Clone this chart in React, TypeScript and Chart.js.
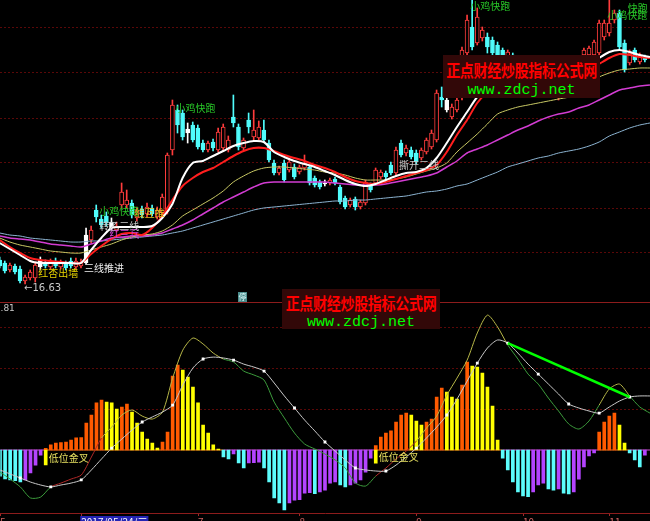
import React, { useEffect, useRef } from 'react';
import { Chart, registerables } from 'chart.js';

Chart.register(...registerables);

// ---- daily candles (bar index 0..127) ----
const openP = [
  17.11, 17.05, 16.91, 16.99, 16.93, 16.69, 16.75, 16.75, 16.97, 17.07,
  16.97, 17.09, 16.97, 17.05, 17.09, 16.97, 16.99, 17.05, 17.51, 18.11,
  17.93, 17.99, 17.75, 17.71, 18.21, 18.21, 18.25, 17.95, 18.13, 18.03,
  18.15, 17.97, 18.05, 18.11, 19.31, 20.11, 20.05, 19.65, 19.81, 19.75,
  19.45, 19.31, 19.47, 19.31, 19.35, 19.31, 19.97, 19.77, 19.35, 19.91,
  19.57, 19.55, 19.71, 19.45, 19.05, 18.85, 19.05, 18.91, 18.97, 18.87,
  18.95, 18.97, 18.75, 18.67, 18.63, 18.65, 18.73, 18.57, 18.35, 18.21,
  18.33, 18.17, 18.25, 18.61, 18.65, 18.77, 18.85, 19.01, 18.85, 19.45,
  19.25, 19.31, 19.25, 19.15, 19.27, 19.37, 19.51, 20.37, 20.11, 19.97,
  20.11, 20.37, 21.25, 21.77, 21.45, 21.55, 21.57, 21.51, 21.41, 21.31,
  21.15, 21.21, 21.11, 20.95, 21.01, 20.91, 20.75, 20.81, 20.71, 20.67,
  20.47, 20.55, 20.75, 20.71, 20.87, 21.21, 21.21, 21.21, 21.25, 21.57,
  21.65, 21.91, 22.05, 21.45, 21.05, 21.31, 21.07, 21.17,
];
const highP = [
  17.17, 17.09, 17.05, 17.03, 16.99, 16.81, 16.91, 17.07, 17.17, 17.11,
  17.13, 17.15, 17.11, 17.09, 17.15, 17.15, 17.13, 17.75, 17.79, 18.21,
  18.01, 18.07, 17.95, 17.87, 18.65, 18.51, 18.31, 18.17, 18.19, 18.25,
  18.21, 18.17, 18.43, 19.25, 20.31, 20.21, 20.11, 19.85, 19.87, 19.81,
  19.51, 19.49, 19.53, 19.75, 19.83, 19.59, 20.41, 19.83, 19.55, 20.05,
  20.11, 19.89, 19.91, 19.51, 19.11, 18.99, 19.11, 19.15, 19.03, 19.01,
  19.21, 19.01, 18.79, 18.71, 18.71, 18.75, 18.77, 18.61, 18.39, 18.35,
  18.37, 18.31, 18.71, 18.65, 18.95, 18.91, 18.89, 19.07, 19.37, 19.51,
  19.41, 19.37, 19.31, 19.35, 19.55, 19.71, 20.51, 20.57, 20.37, 20.23,
  20.37, 21.37, 22.01, 22.41, 22.15, 21.77, 21.65, 21.57, 21.47, 21.35,
  21.31, 21.25, 21.15, 21.11, 21.07, 20.95, 20.91, 20.85, 20.75, 20.71,
  20.65, 20.75, 20.79, 20.95, 21.15, 21.35, 21.39, 21.51, 21.91, 21.91,
  22.37, 22.11, 22.11, 21.51, 21.31, 21.35, 21.25, 21.21,
];
const lowP = [
  16.95, 16.85, 16.87, 16.83, 16.65, 16.63, 16.71, 16.67, 16.91, 16.95,
  16.93, 16.95, 16.93, 16.91, 16.95, 16.93, 16.95, 17.03, 17.45, 17.87,
  17.75, 17.79, 17.69, 17.67, 18.15, 18.15, 17.95, 17.89, 17.95, 17.97,
  17.99, 17.93, 18.01, 18.03, 19.21, 19.65, 19.51, 19.45, 19.47, 19.33,
  19.27, 19.27, 19.29, 19.27, 19.29, 19.27, 19.77, 19.31, 19.31, 19.65,
  19.51, 19.51, 19.47, 19.07, 18.81, 18.81, 18.67, 18.87, 18.73, 18.83,
  18.91, 18.61, 18.57, 18.53, 18.59, 18.61, 18.61, 18.23, 18.13, 18.17,
  18.11, 18.13, 18.21, 18.47, 18.61, 18.73, 18.73, 18.81, 18.81, 19.17,
  19.19, 19.13, 19.03, 19.11, 19.23, 19.33, 19.47, 20.17, 20.07, 19.93,
  20.07, 20.31, 21.21, 21.31, 21.41, 21.49, 21.25, 21.21, 21.07, 21.03,
  21.11, 20.87, 20.81, 20.91, 20.71, 20.67, 20.71, 20.51, 20.47, 20.37,
  20.31, 20.51, 20.37, 20.67, 20.83, 21.17, 21.17, 21.17, 21.21, 21.51,
  21.59, 21.85, 21.31, 20.87, 21.01, 21.07, 21.03, 21.07,
];
const closeP = [
  16.99, 16.89, 17.01, 16.87, 16.69, 16.77, 16.87, 17.01, 17.11, 16.99,
  17.07, 16.99, 17.07, 16.95, 16.99, 17.09, 17.07, 17.61, 17.71, 17.97,
  17.81, 17.85, 17.87, 17.79, 18.47, 18.31, 18.01, 18.11, 18.01, 18.17,
  18.03, 18.11, 18.37, 19.21, 20.21, 19.81, 19.57, 19.73, 19.51, 19.37,
  19.31, 19.45, 19.35, 19.67, 19.77, 19.51, 19.85, 19.37, 19.51, 19.77,
  19.71, 19.77, 19.51, 19.11, 18.85, 18.95, 18.71, 19.07, 18.77, 18.97,
  19.05, 18.65, 18.61, 18.57, 18.65, 18.71, 18.65, 18.27, 18.17, 18.31,
  18.17, 18.27, 18.67, 18.51, 18.91, 18.87, 18.77, 18.85, 19.31, 19.21,
  19.35, 19.17, 19.07, 19.31, 19.51, 19.65, 20.45, 20.31, 20.31, 20.17,
  20.31, 21.31, 21.91, 21.37, 21.97, 21.71, 21.37, 21.25, 21.11, 21.07,
  21.27, 20.91, 20.87, 21.07, 20.75, 20.71, 20.87, 20.55, 20.51, 20.47,
  20.61, 20.71, 20.59, 20.91, 21.11, 21.31, 21.35, 21.47, 21.85, 21.85,
  21.85, 22.05, 21.37, 20.91, 21.25, 21.11, 21.21, 21.11,
];
// bars the indicator paints white
const whiteBars = [8, 17, 22, 37, 64, 88];

// ---- moving averages, one value every 2 bars ----
const LINE_STEP = 2;
const ma5 = [
  17.45, 17.33, 17.21, 17.09, 17.05, 17.05, 17.05, 17.05, 17.05, 17.31,
  17.55, 17.75, 17.77, 17.77, 17.77, 17.79, 17.95, 18.23, 18.75, 19.05,
  19.09, 19.19, 19.29, 19.39, 19.45, 19.49, 19.47, 19.27, 19.17, 19.09,
  19.03, 18.97, 18.89, 18.81, 18.71, 18.63, 18.59, 18.63, 18.71, 18.79,
  18.85, 18.87, 18.95, 19.15, 19.45, 19.77, 20.07, 20.37, 20.55, 20.71,
  20.81, 20.87, 20.87, 20.81, 20.75, 20.71, 20.75, 20.87, 21.01, 21.15,
  21.27, 21.31, 21.27, 21.21, 21.17,
];
const ma10 = [
  17.51, 17.37, 17.25, 17.15, 17.11, 17.09, 17.07, 17.05, 17.05, 17.23,
  17.39, 17.53, 17.63, 17.65, 17.61, 17.75, 17.99, 18.31, 18.59, 18.75,
  18.87, 18.95, 19.07, 19.19, 19.29, 19.35, 19.35, 19.29, 19.21, 19.15,
  19.09, 19.01, 18.95, 18.87, 18.77, 18.69, 18.65, 18.63, 18.67, 18.73,
  18.79, 18.85, 18.91, 19.01, 19.27, 19.61, 19.91, 20.25, 20.47, 20.61,
  20.71, 20.77, 20.79, 20.77, 20.75, 20.73, 20.75, 20.81, 20.91, 21.03,
  21.15, 21.23, 21.21, 21.17, 21.15,
];
const ma20 = [
  17.55, 17.47, 17.41, 17.37, 17.33, 17.29, 17.27, 17.25, 17.25, 17.31,
  17.37, 17.43, 17.51, 17.57, 17.61, 17.63, 17.69, 17.81, 17.99, 18.11,
  18.23, 18.35, 18.49, 18.67, 18.79, 18.89, 18.95, 18.97, 18.97, 18.95,
  18.93, 18.91, 18.87, 18.85, 18.81, 18.75, 18.71, 18.71, 18.71, 18.73,
  18.77, 18.83, 18.89, 18.95, 19.05, 19.27, 19.45, 19.63, 19.83, 20.03,
  20.11, 20.17, 20.21, 20.25, 20.29, 20.33, 20.37, 20.49, 20.63, 20.77,
  20.85, 20.91, 20.93, 20.95, 20.95,
];
const ma30 = [
  17.59, 17.55, 17.53, 17.51, 17.47, 17.43, 17.41, 17.39, 17.37, 17.43,
  17.49, 17.55, 17.57, 17.59, 17.59, 17.61, 17.65, 17.73, 17.81, 17.91,
  18.03, 18.15, 18.27, 18.37, 18.47, 18.57, 18.65, 18.67, 18.67, 18.67,
  18.67, 18.67, 18.67, 18.65, 18.63, 18.61, 18.61, 18.61, 18.63, 18.67,
  18.71, 18.75, 18.79, 18.85, 18.97, 19.09, 19.25, 19.33, 19.41, 19.51,
  19.61, 19.71, 19.79, 19.89, 19.97, 20.03, 20.07, 20.15, 20.21, 20.31,
  20.41, 20.51, 20.55, 20.59, 20.61,
];
const ma60 = [
  17.65, 17.61, 17.59, 17.55, 17.53, 17.51, 17.49, 17.47, 17.47, 17.49,
  17.49, 17.51, 17.53, 17.55, 17.57, 17.59, 17.61, 17.65, 17.69, 17.75,
  17.81, 17.87, 17.93, 17.99, 18.05, 18.11, 18.15, 18.17, 18.19, 18.21,
  18.23, 18.25, 18.27, 18.29, 18.29, 18.31, 18.31, 18.33, 18.35, 18.37,
  18.39, 18.43, 18.47, 18.49, 18.53, 18.59, 18.63, 18.71, 18.79, 18.87,
  18.97, 19.03, 19.09, 19.15, 19.19, 19.25, 19.29, 19.33, 19.39, 19.47,
  19.59, 19.67, 19.75, 19.81, 19.85,
];

// ---- MACD ----
const macdHist = [
  -0.150, -0.165, -0.171, -0.175, -0.183, -0.171, -0.131, -0.086, -0.029, 0.010,
  0.029, 0.040, 0.043, 0.046, 0.057, 0.069, 0.071, 0.154, 0.200, 0.269,
  0.286, 0.274, 0.269, 0.234, 0.246, 0.263, 0.217, 0.154, 0.103, 0.063,
  0.040, 0.011, 0.046, 0.103, 0.423, 0.486, 0.457, 0.417, 0.360, 0.269,
  0.143, 0.097, 0.029, 0.006, -0.040, -0.051, -0.023, -0.074, -0.103, -0.074,
  -0.072, -0.070, -0.103, -0.183, -0.274, -0.303, -0.343, -0.303, -0.286, -0.284,
  -0.246, -0.244, -0.250, -0.240, -0.229, -0.189, -0.183, -0.200, -0.211, -0.200,
  -0.189, -0.171, -0.126, -0.046, 0.025, 0.074, 0.097, 0.109, 0.160, 0.200,
  0.211, 0.200, 0.166, 0.143, 0.160, 0.177, 0.303, 0.354, 0.331, 0.303,
  0.291, 0.371, 0.503, 0.480, 0.474, 0.440, 0.360, 0.251, 0.057, -0.046,
  -0.114, -0.183, -0.240, -0.263, -0.266, -0.240, -0.200, -0.189, -0.223, -0.229,
  -0.223, -0.246, -0.251, -0.240, -0.166, -0.097, -0.034, -0.017, 0.103, 0.160,
  0.194, 0.211, 0.143, 0.040, -0.017, -0.057, -0.097, -0.029,
];
const dif = [
  -0.126, -0.166, -0.211, -0.274, -0.269, -0.211, -0.189, -0.166, -0.143, -0.040,
  0.069, 0.131, 0.200, 0.229, 0.194, 0.177, 0.217, 0.411, 0.571, 0.640,
  0.606, 0.554, 0.520, 0.503, 0.451, 0.429, 0.400, 0.274, 0.183, 0.097,
  0.034, 0.006, -0.023, -0.057, -0.103, -0.189, -0.206, -0.149, -0.103, -0.051,
  -0.006, 0.051, 0.126, 0.194, 0.314, 0.411, 0.514, 0.669, 0.771, 0.703,
  0.600, 0.520, 0.434, 0.377, 0.297, 0.223, 0.149, 0.120, 0.166, 0.257,
  0.349, 0.377, 0.309, 0.246, 0.211,
];
const dea = [
  -0.114, -0.137, -0.160, -0.183, -0.200, -0.211, -0.200, -0.189, -0.171, -0.114,
  -0.051, 0.011, 0.063, 0.114, 0.160, 0.189, 0.217, 0.257, 0.371, 0.469,
  0.520, 0.531, 0.526, 0.514, 0.491, 0.474, 0.451, 0.383, 0.309, 0.240,
  0.171, 0.109, 0.046, -0.006, -0.057, -0.103, -0.114, -0.120, -0.120, -0.086,
  -0.040, 0.011, 0.069, 0.131, 0.200, 0.291, 0.394, 0.497, 0.583, 0.629,
  0.611, 0.554, 0.491, 0.434, 0.377, 0.320, 0.263, 0.240, 0.223, 0.211,
  0.246, 0.280, 0.303, 0.309, 0.309,
];
// low-level golden cross signals
const crossBars = [9, 74];
const crossDepth = [-0.085, -0.075];
// DEA trend line between two turning points (bar indices)
const trendBars = [100, 124];

// ---- axes ----
const X_MIN = 0.06;
const X_MAX = 128.01;
const PRICE_MIN = 16.27;
const PRICE_MAX = 22.31;
const priceGrid = [21.75, 20.85, 19.95, 19.05, 18.15, 17.25];
const MACD_MIN = -0.36;
const MACD_MAX = 0.846;
const macdGrid = [0.234, 0.468, 0.702];
const macdLabelValue = 0.81;
const xTickBars = [0, 16, 39, 59, 82, 103, 120];
const xTickLabels = ['5', '2017/05/24/三', '7', '8', '9', '10', '11'];

// ---- indicator captions on the price panel ----
const signalBars = [8, 17, 20, 27, 20, 22, 35, 79, 93, 120, 124];
const signalPrices = [16.85, 16.95, 18.09, 18.05, 17.79, 17.63, 20.15, 19.01, 22.19, 22.01, 22.15];
const signalTexts = ['红杏出墙', '三线推进', '小鸡快跑', '线互推', '转乙二线', '红三兵', '小鸡快跑', '撕开二线', '小鸡快跑', '小鸡快跑', '快跑'];
const signalColors = ['#e6d200', '#f0f0f0', '#28c828', '#e0c020', '#c8c8c8', '#d040d0', '#28c828', '#c8c8c8', '#28c828', '#28c828', '#28c828'];

const CJK = '"Noto Sans CJK SC", "DejaVu Sans", sans-serif';
const UP = '#ff3c3c';
const DOWN = '#50fcfc';
const WHITE = '#ffffff';

const stepPoints = (arr: number[]) => arr.map((y, k) => ({ x: k * LINE_STEP, y }));

function candleColor(i: number) {
  if (whiteBars.includes(i)) return WHITE;
  return closeP[i] >= openP[i] ? UP : DOWN;
}

function histColor(i: number) {
  const v = macdHist[i];
  const prev = i > 0 ? macdHist[i - 1] : v;
  if (v >= 0) return v >= prev ? '#ff5a00' : '#ffff00';
  return v <= prev ? '#5cfcfc' : '#b444ff';
}

const hideAxisWidth = (s: any) => { s.width = 0; };

export default function App() {
  const priceRef = useRef<HTMLCanvasElement>(null);
  const macdRef = useRef<HTMLCanvasElement>(null);

  useEffect(() => {
    const idx = openP.map((_, i) => i);

    const captions = {
      id: 'captions',
      afterDatasetsDraw(chart: any) {
        const { ctx, scales } = chart;
        const x = scales.x;
        const y = scales.y;
        ctx.save();
        ctx.textBaseline = 'middle';
        ctx.textAlign = 'left';
        ctx.font = `10px ${CJK}`;
        signalTexts.forEach((t, n) => {
          ctx.fillStyle = signalColors[n];
          ctx.fillText(t, x.getPixelForValue(signalBars[n]) - 2, y.getPixelForValue(signalPrices[n]));
        });
        // lowest low of the window
        let lo = 0;
        lowP.forEach((v, i) => { if (v < lowP[lo]) lo = i; });
        ctx.font = '10px "DejaVu Sans", sans-serif';
        ctx.fillStyle = '#c8c8c8';
        ctx.fillText('←' + lowP[lo].toFixed(2), x.getPixelForValue(lo) - 1, y.getPixelForValue(lowP[lo]) + 4);
        ctx.restore();
      },
    };

    const priceChart = new Chart(priceRef.current as HTMLCanvasElement, {
      type: 'bar',
      data: {
        datasets: [
          {
            type: 'line', label: 'MA5', data: stepPoints(ma5), borderColor: '#ffffff',
            borderWidth: 2, pointRadius: 0, tension: 0.25, order: 1,
          },
          {
            type: 'line', label: 'MA10', data: stepPoints(ma10), borderColor: '#ff1e1e',
            borderWidth: 2, pointRadius: 0, tension: 0.25, order: 1,
          },
          {
            type: 'line', label: 'MA20', data: stepPoints(ma20), borderColor: '#c8c864',
            borderWidth: 1, pointRadius: 0, tension: 0.25, order: 1,
          },
          {
            type: 'line', label: 'MA30', data: stepPoints(ma30), borderColor: '#d23cd2',
            borderWidth: 1.5, pointRadius: 0, tension: 0.25, order: 1,
          },
          {
            type: 'line', label: 'MA60', data: stepPoints(ma60), borderColor: '#8cb4d2',
            borderWidth: 1, pointRadius: 0, tension: 0.25, order: 1,
          },
          {
            type: 'bar', label: 'body',
            data: idx.map((i) => ({ x: i, y: [openP[i], closeP[i]] })) as any,
            backgroundColor: idx.map((i) => (candleColor(i) === UP ? '#000000' : candleColor(i))),
            borderColor: idx.map((i) => candleColor(i)),
            borderWidth: 1, borderSkipped: false, barThickness: 4, grouped: false, order: 2,
          } as any,
          {
            type: 'bar', label: 'range',
            data: idx.map((i) => ({ x: i, y: [lowP[i], highP[i]] })) as any,
            backgroundColor: idx.map((i) => candleColor(i)),
            borderWidth: 0, barThickness: 1, grouped: false, order: 3,
          } as any,
        ],
      },
      options: {
        responsive: false,
        animation: false,
        devicePixelRatio: 1,
        layout: { padding: 0 },
        plugins: { legend: { display: false }, tooltip: { enabled: false } },
        scales: {
          x: { type: 'linear', min: X_MIN, max: X_MAX, offset: false, display: false },
          y: {
            type: 'linear', min: PRICE_MIN, max: PRICE_MAX,
            afterBuildTicks: (s: any) => { s.ticks = priceGrid.map((value) => ({ value })); },
            afterFit: hideAxisWidth,
            ticks: { display: false },
            grid: { color: '#5a0808', drawTicks: false, lineWidth: 1 },
            border: { display: false, dash: [2, 2] },
          },
        },
      },
      plugins: [captions],
    } as any);

    const crossCaptions = {
      id: 'crossCaptions',
      afterDatasetsDraw(chart: any) {
        const { ctx, scales } = chart;
        ctx.save();
        ctx.font = `10px ${CJK}`;
        ctx.fillStyle = '#e6e060';
        ctx.textBaseline = 'middle';
        crossBars.forEach((b, n) => {
          ctx.fillText('低位金叉', scales.x.getPixelForValue(b) + 3, scales.y.getPixelForValue(crossDepth[n] * 0.55));
        });
        ctx.restore();
      },
    };

    const difColor = (k: number) => {
      const h = macdHist[Math.min(k * LINE_STEP, macdHist.length - 1)];
      if (h < 0) return '#3c9c3c';
      return dif[k] >= 0 ? '#b8b848' : '#b02828';
    };

    const macdChart = new Chart(macdRef.current as HTMLCanvasElement, {
      type: 'bar',
      data: {
        datasets: [
          {
            type: 'line', label: 'trend',
            data: trendBars.map((b) => ({ x: b, y: dea[b / LINE_STEP] })),
            borderColor: '#00ff00', borderWidth: 2.5, pointRadius: 0, order: 0,
          },
          {
            type: 'line', label: 'DEA', data: stepPoints(dea), borderColor: '#c8c8c8',
            borderWidth: 1, tension: 0.25, order: 1,
            pointStyle: 'rect',
            pointRadius: (c: any) => (c.dataIndex % 3 === 2 ? 2 : 0),
            pointBackgroundColor: '#ffffff', pointBorderWidth: 0,
          } as any,
          {
            type: 'line', label: 'DIF', data: stepPoints(dif), borderWidth: 1, tension: 0.25,
            pointRadius: 0, order: 2, borderColor: '#b8b848',
            segment: { borderColor: (c: any) => difColor(c.p0DataIndex) },
          } as any,
          {
            type: 'bar', label: 'cross',
            data: crossBars.map((b, n) => ({ x: b, y: [0, crossDepth[n]] })) as any,
            backgroundColor: '#ffff00', barThickness: 3, grouped: false, order: 3,
          } as any,
          {
            type: 'bar', label: 'MACD',
            data: idx.map((i) => ({ x: i, y: macdHist[i] })) as any,
            backgroundColor: idx.map((i) => histColor(i)),
            barThickness: 3, grouped: false, order: 4,
          } as any,
          {
            type: 'line', label: 'zero',
            data: idx.map((i) => ({ x: i, y: 0 })).concat([{ x: X_MAX + 1, y: 0 }]),
            borderWidth: 1, pointRadius: 0, order: 5, borderColor: '#d050d0',
            segment: { borderColor: (c: any) => (macdHist[Math.min(c.p0DataIndex, macdHist.length - 1)] >= 0 ? '#ff7a20' : '#d050d0') },
          } as any,
        ],
      },
      options: {
        responsive: false,
        animation: false,
        devicePixelRatio: 1,
        layout: { padding: 0 },
        plugins: { legend: { display: false }, tooltip: { enabled: false } },
        scales: {
          x: {
            type: 'linear', min: X_MIN, max: X_MAX, offset: false, position: 'bottom',
            afterBuildTicks: (s: any) => { s.ticks = xTickBars.map((value) => ({ value })); },
            afterFit: (s: any) => { s.height = 8; },
            grid: { drawOnChartArea: false, drawTicks: true, tickLength: 3, tickColor: '#a02828', color: '#a02828', offset: false },
            border: { display: true, color: '#8c1c1c', width: 1 },
            ticks: {
              autoSkip: false, maxRotation: 0, minRotation: 0, align: 'start', padding: 0,
              font: { size: 10, family: CJK },
              color: (c: any) => (c.index === 1 ? '#ffffff' : '#d06060'),
              callback: (_v: any, i: number) => xTickLabels[i],
              showLabelBackdrop: (c: any) => c.index === 1,
              backdropColor: '#2424b4',
              backdropPadding: { top: 0, bottom: 4, left: 1, right: 1 },
            },
          },
          xSep: {
            type: 'linear', min: X_MIN, max: X_MAX, offset: false, position: 'top',
            afterFit: (s: any) => { s.height = 0; },
            ticks: { display: false },
            grid: { drawOnChartArea: false, drawTicks: false, offset: false },
            border: { display: true, color: '#8c1c1c', width: 1 },
          },
          y: {
            type: 'linear', min: MACD_MIN, max: MACD_MAX,
            afterBuildTicks: (s: any) => { s.ticks = macdGrid.concat([macdLabelValue]).map((value) => ({ value })); },
            afterFit: hideAxisWidth,
            ticks: {
              mirror: true, padding: -5.5,
              font: { size: 9, family: '"DejaVu Sans", sans-serif' },
              color: '#c8c8c8',
              callback: (v: any) => (v === macdLabelValue ? v.toFixed(2) : ''),
            },
            grid: {
              drawTicks: false,
              color: (c: any) => (c.tick && c.tick.value === macdLabelValue ? 'rgba(0,0,0,0)' : '#5a0808'),
            },
            border: { display: false, dash: [2, 2] },
          },
        },
      },
      plugins: [crossCaptions],
    } as any);

    return () => {
      priceChart.destroy();
      macdChart.destroy();
    };
  }, []);

  const boxStyle = (left: number, top: number, w: number, h: number): React.CSSProperties => ({
    position: 'absolute', left, top, width: w, height: h, background: '#320808',
    textAlign: 'center', whiteSpace: 'nowrap', overflow: 'hidden',
  });
  const siteName: React.CSSProperties = {
    color: '#ff0000', font: `bold 14px ${CJK}`, lineHeight: '17px', letterSpacing: '-0.3px',
    transform: 'scaleY(1.2)',
  };
  const siteUrl: React.CSSProperties = {
    color: '#00ff00', font: '15px "Liberation Mono", "DejaVu Sans Mono", monospace', lineHeight: '15px',
  };

  return (
    <div style={{ position: 'fixed', left: 0, top: 0, width: 650, height: 521, background: '#000', overflow: 'hidden' }}>
      <canvas ref={priceRef} width={650} height={302} style={{ position: 'absolute', left: 0, top: 0, width: 650, height: 302 }} />
      <canvas ref={macdRef} width={650} height={219} style={{ position: 'absolute', left: 0, top: 302, width: 650, height: 219 }} />
      <div style={{ ...boxStyle(443, 55, 157, 43) }}>
        <div style={{ ...siteName, marginTop: 7 }}>正点财经炒股指标公式网</div>
        <div style={{ ...siteUrl, marginTop: 4 }}>www.zdcj.net</div>
      </div>
      <div style={{ ...boxStyle(282, 289, 158, 40) }}>
        <div style={{ ...siteName, marginTop: 6 }}>正点财经炒股指标公式网</div>
        <div style={{ ...siteUrl, marginTop: 3 }}>www.zdcj.net</div>
      </div>
      <div style={{
        position: 'absolute', left: 238, top: 292, width: 9, height: 10, background: '#4a8c8c',
        color: '#e0ffff', font: `8px ${CJK}`, lineHeight: '10px', textAlign: 'center',
      }}>停</div>
    </div>
  );
}
